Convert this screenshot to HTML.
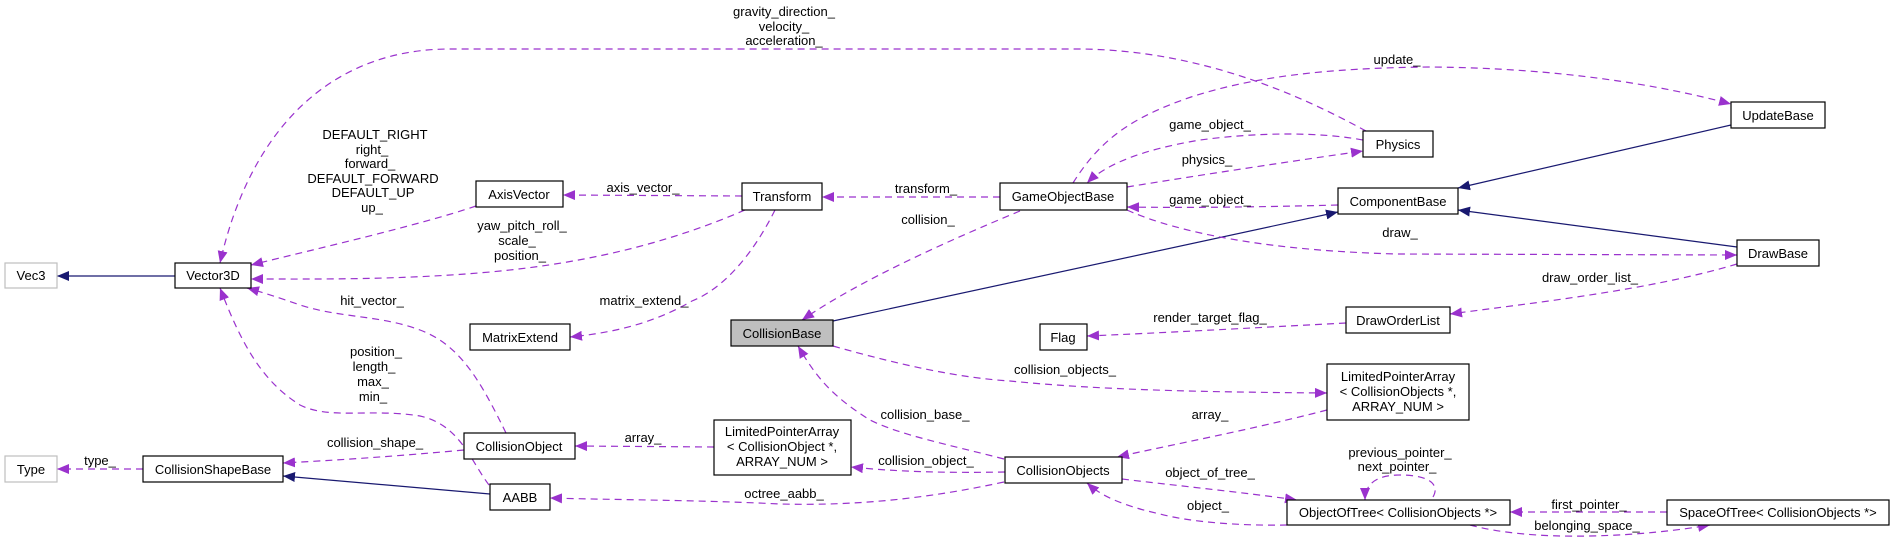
<!DOCTYPE html>
<html><head><meta charset="utf-8"><style>
html,body{margin:0;padding:0;background:#fff;}
svg{display:block;}
text{font-family:"Liberation Sans",Arial,sans-serif;font-size:13px;fill:#000;}
.b{fill:#fff;stroke:#000;stroke-width:1.2;}
.g{fill:#fff;stroke:#bfbfbf;stroke-width:1.2;}
.p{fill:none;stroke:#9a32cd;stroke-width:1.2;stroke-dasharray:7,5;}
.n{fill:none;stroke:#191970;stroke-width:1.2;}
</style></head><body>
<svg width="1891" height="540" viewBox="0 0 1891 540" xmlns="http://www.w3.org/2000/svg">
<defs>
<marker id="ap" viewBox="0 0 12 10" refX="12" refY="5" markerWidth="12" markerHeight="10" markerUnits="userSpaceOnUse" orient="auto"><path d="M0,0 L12,5 L0,10 z" fill="#9a32cd"/></marker>
<marker id="an" viewBox="0 0 12 10" refX="12" refY="5" markerWidth="12" markerHeight="10" markerUnits="userSpaceOnUse" orient="auto"><path d="M0,0 L12,5 L0,10 z" fill="#191970"/></marker>
</defs>

<!-- edges -->
<path class="n" marker-end="url(#an)" d="M175,276 L57,276"/>
<path class="p" marker-end="url(#ap)" d="M1366,131 C1300,95 1200,50 1080,49 L450,49 C330,49 250,130 220,263"/>
<path class="p" marker-end="url(#ap)" d="M476,206 C420,225 320,248 251,265"/>
<path class="p" marker-end="url(#ap)" d="M742,196 L563,195"/>
<path class="p" marker-end="url(#ap)" d="M745,210 C680,238 600,262 490,272 C400,280 320,279 251,279"/>
<path class="p" marker-end="url(#ap)" d="M775,210 C750,260 720,290 692,301 C650,325 610,333 570,337"/>
<path class="p" marker-end="url(#ap)" d="M1000,197 L822,197"/>
<path class="p" marker-end="url(#ap)" d="M1020,211 C950,240 860,280 802,320"/>
<path class="n" marker-end="url(#an)" d="M833,321 L1338,212"/>
<path class="p" marker-end="url(#ap)" d="M1363,140 C1320,132 1260,132 1200,140 C1140,150 1105,165 1087,183"/>
<path class="p" marker-end="url(#ap)" d="M1127,187 C1200,175 1300,160 1363,151"/>
<path class="p" marker-end="url(#ap)" d="M1073,183 C1100,140 1130,118 1191,97 C1250,78 1320,68 1430,67 C1560,68 1660,85 1731,104"/>
<path class="p" marker-end="url(#ap)" d="M1338,205 C1260,207 1190,208 1127,207"/>
<path class="p" marker-end="url(#ap)" d="M1127,210 C1160,225 1240,250 1397,254 L1737,255"/>
<path class="n" marker-end="url(#an)" d="M1731,125 L1458,188"/>
<path class="n" marker-end="url(#an)" d="M1737,247 L1458,210"/>
<path class="p" marker-end="url(#ap)" d="M1737,264 C1650,290 1540,302 1450,314"/>
<path class="p" marker-end="url(#ap)" d="M1346,323 C1250,328 1160,333 1087,336"/>
<path class="p" marker-end="url(#ap)" d="M833,346 C900,365 960,378 1010,381 C1100,390 1200,392 1327,393"/>
<path class="p" marker-end="url(#ap)" d="M1327,410 C1250,430 1170,445 1117,457"/>
<path class="p" marker-end="url(#ap)" d="M1004,459 C950,445 900,435 870,420 C830,395 815,375 798,346"/>
<path class="p" marker-end="url(#ap)" d="M1005,472 C950,473 900,472 851,467"/>
<path class="p" marker-end="url(#ap)" d="M714,447 L575,446"/>
<path class="p" marker-end="url(#ap)" d="M1004,482 C930,498 860,506 780,504 C700,500 620,500 550,498"/>
<path class="p" marker-end="url(#ap)" d="M506,433 C480,380 460,345 420,330 C380,315 340,318 300,305 C280,298 265,293 247,288"/>
<path class="p" marker-end="url(#ap)" d="M489,485 C470,460 460,425 420,416 C370,408 330,420 300,405 C260,380 240,340 220,288"/>
<path class="p" marker-end="url(#ap)" d="M464,450 C400,456 340,460 283,463"/>
<path class="n" marker-end="url(#an)" d="M490,494 L283,476"/>
<path class="p" marker-end="url(#ap)" d="M143,469 L57,469"/>
<path class="p" marker-end="url(#ap)" d="M1122,479 C1180,486 1240,492 1297,500"/>
<path class="p" marker-end="url(#ap)" d="M1287,525 C1240,526 1190,522 1160,514 C1120,505 1100,495 1087,483"/>
<path class="p" marker-end="url(#ap)" d="M1433,497 C1440,485 1430,475 1400,475 C1375,475 1365,485 1365,500"/>
<path class="p" marker-end="url(#ap)" d="M1667,512 L1510,512"/>
<path class="p" marker-end="url(#ap)" d="M1470,525 C1500,533 1540,537 1590,536 C1640,535 1680,530 1710,525"/>

<!-- edge labels -->
<g text-anchor="middle">
<text x="784" y="16">gravity_direction_</text>
<text x="784" y="31">velocity_</text>
<text x="784" y="45">acceleration_</text>
<text x="375" y="139">DEFAULT_RIGHT</text>
<text x="372" y="154">right_</text>
<text x="370" y="168">forward_</text>
<text x="373" y="183">DEFAULT_FORWARD</text>
<text x="373" y="197">DEFAULT_UP</text>
<text x="372" y="212">up_</text>
<text x="643" y="192">axis_vector_</text>
<text x="522" y="230">yaw_pitch_roll_</text>
<text x="517" y="245">scale_</text>
<text x="520" y="260">position_</text>
<text x="644" y="305">matrix_extend_</text>
<text x="926" y="193">transform_</text>
<text x="928" y="224">collision_</text>
<text x="1210" y="129">game_object_</text>
<text x="1207" y="164">physics_</text>
<text x="1397" y="64">update_</text>
<text x="1210" y="204">game_object_</text>
<text x="1400" y="237">draw_</text>
<text x="1590" y="282">draw_order_list_</text>
<text x="1210" y="322">render_target_flag_</text>
<text x="1065" y="374">collision_objects_</text>
<text x="1210" y="419">array_</text>
<text x="925" y="419">collision_base_</text>
<text x="926" y="465">collision_object_</text>
<text x="643" y="442">array_</text>
<text x="784" y="498">octree_aabb_</text>
<text x="372" y="305">hit_vector_</text>
<text x="376" y="356">position_</text>
<text x="374" y="371">length_</text>
<text x="373" y="386">max_</text>
<text x="373" y="401">min_</text>
<text x="375" y="447">collision_shape_</text>
<text x="100" y="465">type_</text>
<text x="1210" y="477">object_of_tree_</text>
<text x="1208" y="510">object_</text>
<text x="1400" y="457">previous_pointer_</text>
<text x="1397" y="471">next_pointer_</text>
<text x="1589" y="509">first_pointer_</text>
<text x="1587" y="530">belonging_space_</text>
</g>

<!-- nodes -->
<g text-anchor="middle">
<rect class="g" x="5" y="263" width="52" height="25"/><text x="31" y="280">Vec3</text>
<rect class="b" x="175" y="263" width="76" height="25"/><text x="213" y="280">Vector3D</text>
<rect class="b" x="476" y="181" width="87" height="26"/><text x="519" y="199">AxisVector</text>
<rect class="b" x="470" y="324" width="100" height="26"/><text x="520" y="342">MatrixExtend</text>
<rect class="b" x="464" y="433" width="111" height="26"/><text x="519" y="451">CollisionObject</text>
<rect class="g" x="5" y="456" width="52" height="26"/><text x="31" y="474">Type</text>
<rect class="b" x="143" y="456" width="140" height="26"/><text x="213" y="474">CollisionShapeBase</text>
<rect class="b" x="490" y="484" width="60" height="26"/><text x="520" y="502">AABB</text>
<rect class="b" x="742" y="183" width="80" height="27"/><text x="782" y="201">Transform</text>
<rect class="b" x="1000" y="183" width="127" height="27"/><text x="1063" y="201">GameObjectBase</text>
<rect x="731" y="320" width="102" height="26" fill="#bfbfbf" stroke="#000" stroke-width="1.2"/><text x="782" y="338">CollisionBase</text>
<rect class="b" x="1040" y="324" width="47" height="26"/><text x="1063" y="342">Flag</text>
<rect class="b" x="714" y="420" width="137" height="55"/>
<text x="782" y="436">LimitedPointerArray</text><text x="782" y="451">&lt; CollisionObject *,</text><text x="782" y="466">ARRAY_NUM &gt;</text>
<rect class="b" x="1005" y="457" width="117" height="26"/><text x="1063" y="475">CollisionObjects</text>
<rect class="b" x="1731" y="102" width="94" height="26"/><text x="1778" y="120">UpdateBase</text>
<rect class="b" x="1363" y="131" width="70" height="26"/><text x="1398" y="149">Physics</text>
<rect class="b" x="1338" y="188" width="120" height="26"/><text x="1398" y="206">ComponentBase</text>
<rect class="b" x="1737" y="240" width="82" height="26"/><text x="1778" y="258">DrawBase</text>
<rect class="b" x="1346" y="307" width="104" height="26"/><text x="1398" y="325">DrawOrderList</text>
<rect class="b" x="1327" y="364" width="142" height="56"/>
<text x="1398" y="381">LimitedPointerArray</text><text x="1398" y="396">&lt; CollisionObjects *,</text><text x="1398" y="411">ARRAY_NUM &gt;</text>
<rect class="b" x="1287" y="500" width="223" height="25"/><text x="1398" y="517">ObjectOfTree&lt; CollisionObjects *&gt;</text>
<rect class="b" x="1667" y="500" width="222" height="25"/><text x="1778" y="517">SpaceOfTree&lt; CollisionObjects *&gt;</text>
</g>
</svg>
</body></html>
